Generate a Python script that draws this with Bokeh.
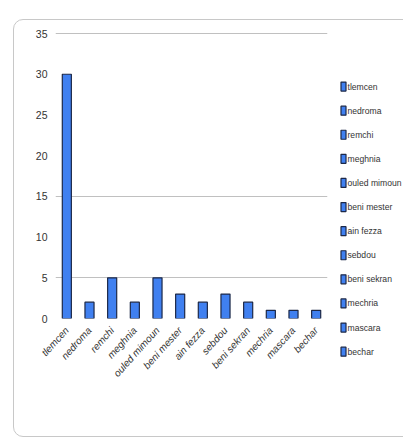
import math
from bokeh.plotting import figure
from bokeh.layouts import row
from bokeh.core.properties import value
from bokeh.models import ColumnDataSource, FixedTicker, InlineStyleSheet, Range1d
from bokeh.embed import file_html
from bokeh.resources import INLINE

cities = ["tlemcen", "nedroma", "remchi", "meghnia", "ouled mimoun", "beni mester",
          "ain fezza", "sebdou", "beni sekran", "mechria", "mascara", "bechar"]
counts = [30, 2, 5, 2, 5, 3, 2, 3, 2, 1, 1, 1]
y_ticks = [0, 5, 10, 15, 20, 25, 30, 35]
grid_ticks = [5, 15, 35]

BAR_FILL = "#4080f0"
BAR_LINE = "#1c2848"
TEXT = "#333333"

src = ColumnDataSource(dict(city=cities, count=counts))

p = figure(x_range=cities, y_range=(0, 35.25), width=330, height=442,
           output_backend="svg", toolbar_location=None,
           min_border_left=55, min_border_right=3, min_border_top=31, min_border_bottom=124)

p.vbar(x="city", top="count", width=0.4, source=src,
       fill_color=BAR_FILL, line_color=BAR_LINE, line_width=1.2)

p.outline_line_color = None
p.background_fill_alpha = 0
p.border_fill_alpha = 0
p.xgrid.grid_line_color = None
p.ygrid.ticker = FixedTicker(ticks=grid_ticks)
p.ygrid.grid_line_color = "#c0c0c0"
p.ygrid.grid_line_width = 1.2

p.yaxis.ticker = FixedTicker(ticks=y_ticks)
p.yaxis.axis_line_color = None
p.yaxis.major_tick_line_color = None
p.yaxis.minor_tick_line_color = None
p.yaxis.major_label_text_font = "Liberation Sans"
p.yaxis.major_label_text_font_size = "10.5px"
p.yaxis.major_label_text_color = TEXT
p.yaxis.major_label_standoff = 2

p.xaxis.axis_line_color = None
p.xaxis.major_tick_line_color = None
p.xaxis.major_label_orientation = math.radians(48)
p.xaxis.major_label_text_font = "Liberation Sans"
p.xaxis.major_label_text_font_style = "italic"
p.xaxis.major_label_text_font_size = "10px"
p.xaxis.major_label_text_color = TEXT
p.xaxis.major_label_standoff = 4

# legend drawn as its own small figure, one row per city (row index = position)
leg_src = ColumnDataSource(dict(city=cities, idx=list(range(len(cities)))))
leg = figure(width=73, height=442, output_backend="svg", toolbar_location=None,
             x_range=Range1d(0, 73),
             y_range=Range1d(14.77, -3.57),
             min_border=0, frame_align=False)
leg.rect(x=13, y="idx", width=5, height=9, width_units="screen", height_units="screen",
         source=leg_src, fill_color=BAR_FILL, line_color=BAR_LINE, line_width=1.2)
leg.text(x=17, y="idx", text="city", source=leg_src, text_baseline="middle",
         text_align="left", text_font=value("Liberation Sans"),
         text_font_size="8.6px", text_color=TEXT)
leg.xaxis.visible = False
leg.yaxis.visible = False
leg.grid.visible = False
leg.outline_line_color = None
leg.background_fill_alpha = 0
leg.border_fill_alpha = 0

border_css = InlineStyleSheet(css="""
:host { position: relative; }
:host::after {
  content: "";
  position: absolute;
  left: 13px; top: 19px; width: 410px; height: 418px;
  border: 1.5px solid #c8c8c8;
  border-radius: 10px;
  pointer-events: none;
  box-sizing: border-box;
}
""")

layout = row(p, leg, spacing=0, stylesheets=[border_css])

open("out.html", "w").write(file_html(layout, INLINE))
